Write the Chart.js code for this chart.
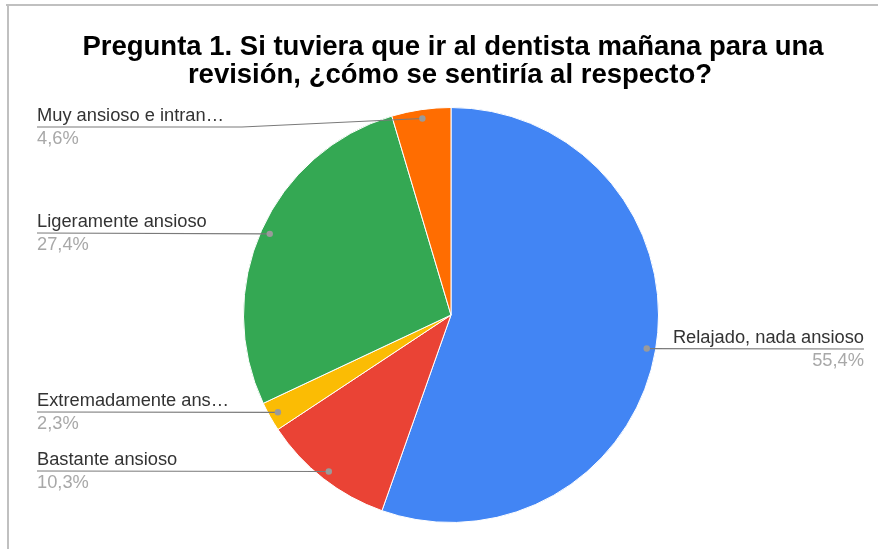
<!DOCTYPE html>
<html><head><meta charset="utf-8">
<script src="https://cdn.jsdelivr.net/npm/chart.js@4"></script>
<style>html,body{margin:0;padding:0;background:#fff}#wrap{width:878px;height:549px;position:relative}</style>
</head><body><div id="wrap"><canvas id="c" width="878" height="549"></canvas></div>
<script>
const titleLines = ["Pregunta 1. Si tuviera que ir al dentista mañana para una", "revisión, ¿cómo se sentiría al respecto?"];
const categories = ["Relajado, nada ansioso", "Bastante ansioso", "Extremadamente ansioso", "Ligeramente ansioso", "Muy ansioso e intranquilo"];
const shortLabels = ["Relajado, nada ansioso", "Bastante ansioso", "Extremadamente ans…", "Ligeramente ansioso", "Muy ansioso e intran…"];
const values = [55.4, 10.3, 2.3, 27.4, 4.6];
const pctLabels = ["55,4%", "10,3%", "2,3%", "27,4%", "4,6%"];
const colors = ["#4285F4", "#EA4335", "#FBBC04", "#34A853", "#FF6D01"];
// label layout: side and underline y
const labelSide = ["right", "left", "left", "left", "left"];
const labelY = [349, 471, 412, 233, 127];

const labelPlugin = {
  id: 'labels',
  afterDraw(chart) {
    const ctx = chart.ctx;
    ctx.save();
    // frame
    ctx.fillStyle = '#c0c0c0';
    ctx.fillRect(6, 4, 872, 2);
    ctx.fillRect(7, 4, 2, 545);
    // title
    ctx.fillStyle = '#000';
    ctx.font = 'bold 27.5px Arial, "Liberation Sans", sans-serif';
    ctx.textAlign = 'center';
    ctx.textBaseline = 'alphabetic';
    ctx.fillText(titleLines[0], 453, 55);
    ctx.fillText(titleLines[1], 450, 83);
    const meta = chart.getDatasetMeta(0);
    meta.data.forEach((arc, i) => {
      const mid = (arc.startAngle + arc.endAngle) / 2;
      const r = arc.outerRadius * 0.957;
      const dx = arc.x + Math.cos(mid) * r;
      const dy = arc.y + Math.sin(mid) * r;
      const y = labelY[i];
      ctx.strokeStyle = '#7a7a7a';
      ctx.lineWidth = 1.2;
      ctx.beginPath();
      if (labelSide[i] === 'left') {
        const xEnd = Math.min(dx, 37 + 205);
        ctx.moveTo(37, y);
        if (Math.abs(dy - y) > 2) {
          ctx.lineTo(xEnd, y);
        }
        ctx.lineTo(dx, dy);
      } else {
        ctx.moveTo(dx, dy);
        ctx.lineTo(864, y);
      }
      ctx.stroke();
      ctx.fillStyle = '#9a9a9a';
      ctx.beginPath();
      ctx.arc(dx, dy, 3.2, 0, Math.PI * 2);
      ctx.fill();
      ctx.font = '18.3px Arial, "Liberation Sans", sans-serif';
      ctx.textBaseline = 'alphabetic';
      ctx.textAlign = labelSide[i] === 'left' ? 'left' : 'right';
      const tx = labelSide[i] === 'left' ? 37 : 864;
      ctx.fillStyle = '#333';
      ctx.fillText(shortLabels[i], tx, y - 6);
      ctx.fillStyle = '#a8a8a8';
      ctx.fillText(pctLabels[i], tx, y + 17);
    });
    ctx.restore();
  }
};

new Chart(document.getElementById('c'), {
  type: 'pie',
  data: {
    labels: categories,
    datasets: [{ data: values, backgroundColor: colors, borderColor: '#ffffff', borderWidth: 1 }]
  },
  options: {
    responsive: false,
    animation: false,
    layout: { padding: { top: 107, bottom: 26, left: 242, right: 218 } },
    plugins: { legend: { display: false }, tooltip: { enabled: false }, title: { display: false } }
  },
  plugins: [labelPlugin]
});
</script></body></html>
